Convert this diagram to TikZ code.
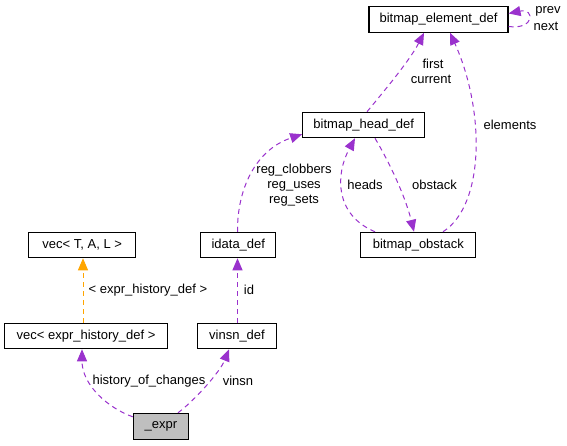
\documentclass[tikz,border=0pt]{standalone}
\usepackage{fontspec}
\setmainfont{Liberation Sans}
\usetikzlibrary{arrows.meta}
\definecolor{edgep}{HTML}{9A32CD}
\definecolor{edgeo}{HTML}{FFA500}
\begin{document}
\begin{tikzpicture}[x=1pt,y=-1pt,
  every node/.style={font=\fontsize{13}{15}\selectfont, inner sep=0pt},
  cls/.style={draw=black, line width=1.1pt, fill=white, minimum height=25.4pt, anchor=center},
  lbl/.style={align=center},
  rel/.style={draw=edgep, line width=1pt, dash pattern=on 5pt off 4pt, -{Triangle[length=12pt,width=10pt]}},
  tmpl/.style={draw=edgeo, line width=1pt, dash pattern=on 5pt off 4pt, -{Triangle[length=12pt,width=10pt]}}]
\useasboundingbox (0,0) rectangle (567,445);
% nodes
\node[cls, minimum width=139pt] (elem) at (438.5,19.5) {bitmap\_element\_def};
\node[cls, minimum width=122pt] (head) at (363.7,125) {bitmap\_head\_def};
\node[cls, minimum width=115pt] (obst) at (418.3,245) {bitmap\_obstack};
\node[cls, minimum width=75pt] (idata) at (238.3,245) {idata\_def};
\node[cls, minimum width=107pt] (vecT) at (82.2,245) {vec< T, A, L >};
\node[cls, minimum width=162.6pt] (vecE) at (86,336) {vec< expr\_history\_def >};
\node[cls, minimum width=79.4pt] (vinsn) at (237,336) {vinsn\_def};
\node[cls, minimum width=55.4pt, minimum height=25.7pt, fill=black!25] (expr) at (161,426.2) {\_expr};
% edges
\draw[rel] ([yshift=-4pt]expr.north west) .. controls (108,408) and (82,385) .. (vecE.south -| 82,0);
\draw[rel] ([xshift=17pt]expr.north) .. controls (195,400) and (220,372) .. (vinsn.south -| 229,0);
\draw[tmpl] (vecE.north -| 83,0) -- (vecT.south -| 83,0);
\draw[rel] (vinsn.north -| 237.5,0) -- (idata.south -| 237.5,0);
\draw[rel] (idata.north -| 237.5,0) .. controls (237,190) and (255,150) .. ([yshift=4pt]head.south west);
\draw[rel] (obst.north -| 375,0) .. controls (335,215) and (335,175) .. (head.south -| 355,0);
\draw[rel] (head.south -| 375,0) .. controls (388,160) and (405,195) .. (obst.north -| 414,0);
\draw[rel] (obst.north -| 443,0) .. controls (485,205) and (485,110) .. (elem.south -| 450,0);
\draw[rel] (head.north -| 367,0) .. controls (385,90) and (410,60) .. (elem.south -| 424,0);
\draw[rel] ([yshift=-7pt]elem.east) .. controls (535,30) and (535,8) .. ([yshift=6pt]elem.east);
% labels
\node[lbl] at (548,11) {prev};
\node[lbl] at (546,26) {next};
\node[lbl] at (433,64) {first};
\node[lbl] at (431,79) {current};
\node[lbl] at (510,125) {elements};
\node[lbl, align=center] at (294,185) {reg\_clobbers\\reg\_uses\\reg\_sets};
\node[lbl] at (365,185) {heads};
\node[lbl] at (434.5,185) {obstack};
\node[lbl] at (148,290) {< expr\_history\_def >};
\node[lbl] at (249,290) {id};
\node[lbl] at (149,381) {history\_of\_changes};
\node[lbl] at (238,381) {vinsn};
\end{tikzpicture}
\end{document}
